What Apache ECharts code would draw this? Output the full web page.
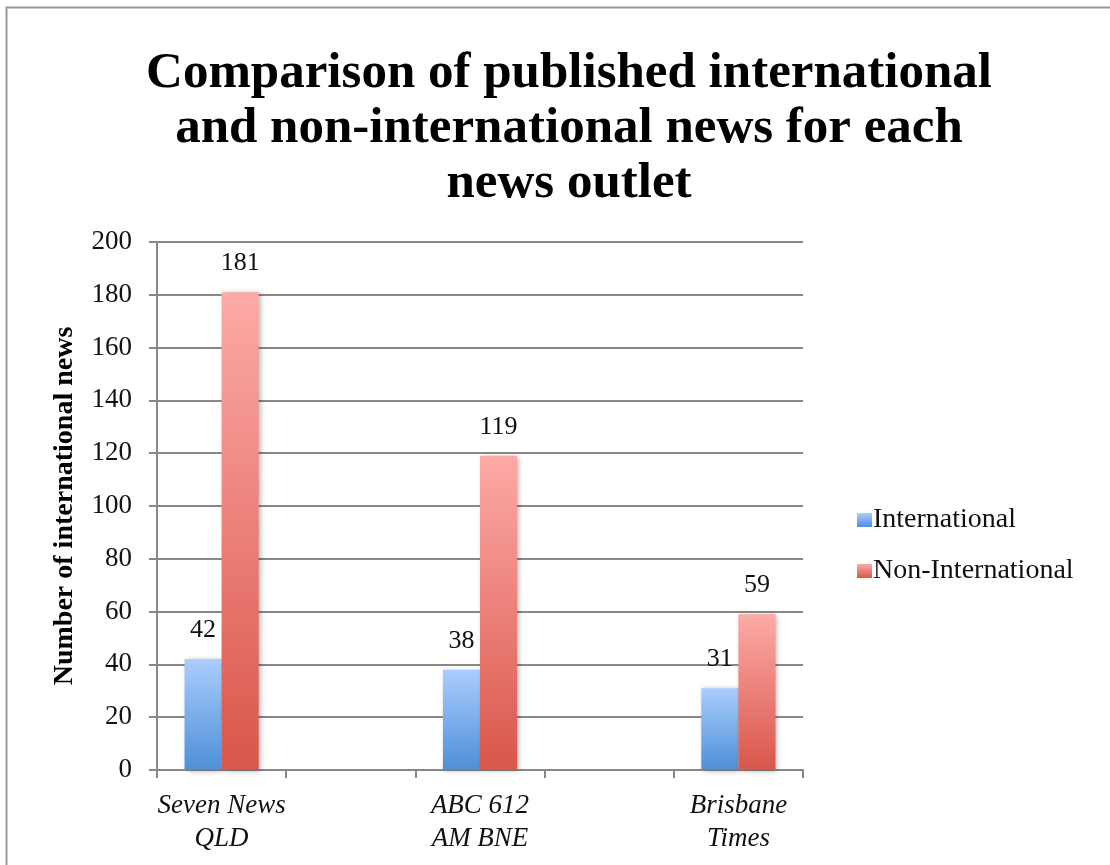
<!DOCTYPE html>
<html>
<head>
<meta charset="utf-8">
<script src="https://cdn.jsdelivr.net/npm/echarts@6/dist/echarts.min.js"></script>
<style>
html,body{margin:0;padding:0;background:#fff;}
#chart{width:1110px;height:865px;}
</style>
</head>
<body>
<div id="chart"></div>
<script>
const categories = ['Seven News\nQLD', '', 'ABC 612\nAM BNE', '', 'Brisbane\nTimes'];
const seriesNames = ['International', 'Non-International'];
const international = [42, null, 38, null, 31];
const nonInternational = [181, null, 119, null, 59];
const yTicks = { min: 0, max: 200, interval: 20 };

const serif = '"Liberation Serif", "DejaVu Serif", serif';
const chart = echarts.init(document.getElementById('chart'));

function grad(top, bottom) {
  return new echarts.graphic.LinearGradient(0, 0, 0, 1, [
    { offset: 0, color: top }, { offset: 1, color: bottom }
  ]);
}

const labelStyle = { show: true, position: 'top', distance: 16, fontFamily: serif, fontSize: 26, color: '#111' };
const shadow = { shadowBlur: 5, shadowColor: 'rgba(0,0,0,0.3)', shadowOffsetX: 2, shadowOffsetY: 1 };

chart.setOption({
  backgroundColor: '#fff',
  animation: false,
  graphic: [{
    type: 'rect', left: 4, top: 5, shape: { width: 1120, height: 880 },
    style: { fill: 'none', stroke: '#999', lineWidth: 2 }, silent: true, z: -10
  }],
  title: {
    text: 'Comparison of published international\nand non-international news for each\nnews outlet',
    left: 564, top: 41, textAlign: 'center',
    textStyle: { fontFamily: serif, fontWeight: 'bold', fontSize: 51, lineHeight: 55, color: '#000' }
  },
  legend: {
    orient: 'vertical', left: 852, top: 501, itemGap: 23,
    itemWidth: 15, itemHeight: 14, icon: 'rect',
    textStyle: { fontFamily: serif, fontSize: 28, color: '#111', padding: [0, 0, 0, -4] },
    data: seriesNames
  },
  grid: { left: 157, right: 307, top: 242, bottom: 95, containLabel: false },
  xAxis: {
    type: 'category', data: categories, boundaryGap: true,
    axisLine: { lineStyle: { color: '#888', width: 2 } },
    axisTick: { show: true, length: 8, interval: 0, lineStyle: { color: '#888', width: 2 } },
    axisLabel: { interval: 0, margin: 19, fontFamily: serif, fontStyle: 'italic', fontSize: 27, lineHeight: 33, color: '#111' }
  },
  yAxis: {
    type: 'value', min: yTicks.min, max: yTicks.max, interval: yTicks.interval,
    name: 'Number of international news', nameLocation: 'middle', nameGap: 78,
    nameTextStyle: { fontFamily: serif, fontWeight: 'bold', fontSize: 28, color: '#000' },
    axisLine: { show: true, lineStyle: { color: '#888', width: 2 } },
    axisTick: { show: true, length: 8, lineStyle: { color: '#888', width: 2 } },
    splitLine: { show: true, lineStyle: { color: '#888', width: 2 } },
    axisLabel: { margin: 25, fontFamily: serif, fontSize: 27, color: '#111' }
  },
  series: [
    {
      name: seriesNames[0], type: 'bar', data: international,
      barGap: '0%', barCategoryGap: '42.6%',
      itemStyle: Object.assign({ color: grad('#abcdfd', '#4e8fd8') }, shadow),
      label: labelStyle
    },
    {
      name: seriesNames[1], type: 'bar', data: nonInternational,
      barGap: '0%', barCategoryGap: '42.6%',
      itemStyle: Object.assign({ color: grad('#fdaaa6', '#d9564b') }, shadow),
      label: labelStyle
    }
  ]
});
</script>
</body>
</html>
